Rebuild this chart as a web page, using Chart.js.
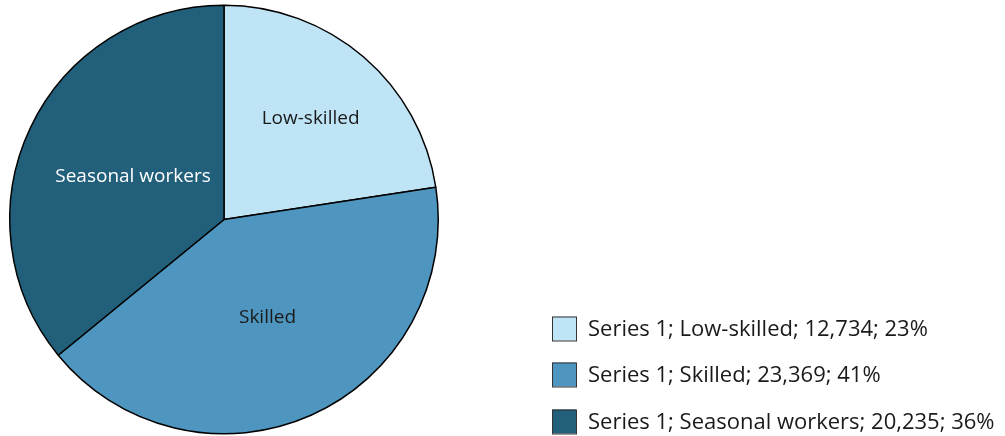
<!DOCTYPE html>
<html>
<head>
<meta charset="utf-8">
<script src="https://cdn.jsdelivr.net/npm/chart.js@4/dist/chart.umd.min.js"></script>
<style>
  html, body { margin: 0; padding: 0; background: #fff; }
  #wrap { width: 1005px; height: 436px; }
</style>
</head>
<body>
<div id="wrap"><canvas id="myChart" width="1005" height="436"></canvas></div>
<script>
const categories = ["Low-skilled", "Skilled", "Seasonal workers"];
const values = [12734, 23369, 20235];
const seriesName = "Series 1";
const colors = ["#bee4f6", "#4e96c0", "#215f7a"];
const labelColors = ["#1a1a1a", "#1a1a1a", "#ffffff"];

const total = values.reduce((a, b) => a + b, 0);

// slice labels inside the pie
const sliceLabels = {
  id: "sliceLabels",
  afterDatasetsDraw(chart) {
    const ctx = chart.ctx;
    const meta = chart.getDatasetMeta(0);
    const frac = [0.62, 0.5, 0.47];
    ctx.save();
    ctx.font = "19px 'Open Sans'";
    ctx.textAlign = "center";
    ctx.textBaseline = "middle";
    meta.data.forEach((arc, i) => {
      const mid = (arc.startAngle + arc.endAngle) / 2;
      const r = arc.outerRadius * frac[i];
      ctx.fillStyle = labelColors[i];
      ctx.fillText(categories[i], arc.x + Math.cos(mid) * r, arc.y + Math.sin(mid) * r);
    });
    ctx.restore();
  }
};

// legend bottom right
const sideLegend = {
  id: "sideLegend",
  afterDraw(chart) {
    const ctx = chart.ctx;
    const rows = [328.5, 374.5, 421.5];
    ctx.save();
    ctx.font = "22px 'Open Sans'";
    ctx.textBaseline = "middle";
    categories.forEach((c, i) => {
      ctx.fillStyle = colors[i];
      ctx.fillRect(552, rows[i] - 12, 24, 24);
      ctx.strokeStyle = "#333";
      ctx.lineWidth = 1;
      ctx.strokeRect(552.5, rows[i] - 11.5, 24, 24);
      const pct = Math.round(values[i] / total * 100);
      const txt = seriesName + "; " + c + "; " + values[i].toLocaleString("en-US") + "; " + pct + "%";
      ctx.fillStyle = "#1a1a1a";
      ctx.fillText(txt, 588, rows[i] + 1);
    });
    ctx.restore();
  }
};

const config = {
  type: "pie",
  data: {
    labels: categories,
    datasets: [{
      label: seriesName,
      data: values,
      backgroundColor: colors,
      borderColor: "#000",
      borderWidth: 1.5
    }]
  },
  options: {
    responsive: false,
    animation: false,
    layout: { padding: { top: 4, bottom: 1, left: 9, right: 566 } },
    plugins: {
      legend: { display: false },
      tooltip: { enabled: false }
    }
  },
  plugins: [sliceLabels, sideLegend]
};

const context = document.getElementById("myChart");
const myChart = new Chart(context, config);
</script>
</body>
</html>
